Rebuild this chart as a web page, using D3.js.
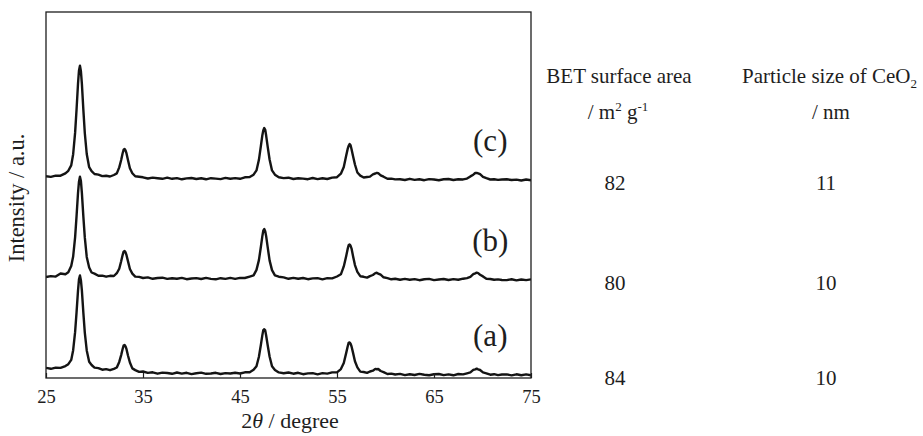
<!DOCTYPE html>
<html>
<head>
<meta charset="utf-8">
<script src="https://cdn.jsdelivr.net/npm/d3@7"></script>
<style>
  body { margin: 0; background: #fff; }
  svg { display: block; }
  text { font-family: "Liberation Serif", "Times New Roman", serif; fill: #1e1e1e; }
</style>
</head>
<body>
<svg id="chart" width="923" height="436"></svg>
<script>
// Diffraction angles (2θ, degree) shared by the three patterns
const twoTheta = [
  25.0, 25.5, 26.0, 26.5, 27.0,
  27.3, 27.6, 27.8, 28.0, 28.15, 28.3, 28.4, 28.5, 28.6, 28.7, 28.85, 29.0, 29.2, 29.45, 29.7, 30.0, 30.4, 30.8, 31.2, 31.6, 32.0,
  32.3, 32.55, 32.75, 32.9, 33.0, 33.1, 33.2, 33.3, 33.45, 33.65, 33.9, 34.2, 34.6,
  35.0, 35.5, 36.0, 36.5, 37.0, 37.5, 38.0, 38.5, 39.0, 39.5, 40.0, 40.5, 41.0, 41.5, 42.0, 42.5, 43.0, 43.5, 44.0, 44.5, 45.0, 45.5, 46.0,
  46.4, 46.7, 46.95, 47.15, 47.3, 47.4, 47.5, 47.6, 47.7, 47.85, 48.05, 48.3, 48.6, 49.0,
  49.5, 50.0, 50.5, 51.0, 51.5, 52.0, 52.5, 53.0, 53.5, 54.0, 54.5, 55.0,
  55.4, 55.7, 55.95, 56.1, 56.2, 56.3, 56.4, 56.5, 56.65, 56.85, 57.1, 57.4, 57.75, 58.1, 58.4, 58.7, 58.95, 59.1, 59.25, 59.5, 59.8, 60.2, 60.6, 61.0,
  61.5, 62.0, 62.5, 63.0, 63.5, 64.0, 64.5, 65.0, 65.5, 66.0, 66.5, 67.0, 67.5, 68.0,
  68.4, 68.75, 69.05, 69.25, 69.4, 69.55, 69.75, 70.05, 70.4, 70.8, 71.2, 71.6, 72.0,
  72.5, 73.0, 73.5, 74.0, 74.5, 75.0
];

// Intensity (a.u.) of each pattern
const patternA = [
  10.1, 9.2, 10.4, 10.1, 11.9,
  13.8, 18.1, 27.8, 45.8, 65.6, 87.4, 98.6, 102.5, 97.6, 87.3, 65.4, 45.4, 27.6, 16.2, 13.0, 10.4, 9.9, 8.3, 8.9, 7.8, 9.1,
  10.5, 16.1, 22.9, 29.0, 32.4, 33.0, 31.6, 28.8, 22.5, 15.5, 9.6, 7.9, 6.1,
  6.5, 5.1, 5.7, 4.3, 5.4, 5.0, 4.2, 5.5, 4.4, 5.2, 3.9, 4.8, 5.4, 4.2, 4.5, 5.2, 4.0, 4.9, 4.5, 5.3, 4.5, 5.7, 5.8,
  8.2, 11.8, 21.2, 33.0, 42.6, 47.9, 48.7, 47.6, 42.3, 33.0, 21.5, 11.8, 8.1, 5.6,
  4.8, 5.5, 4.3, 5.2, 3.8, 4.6, 4.85, 3.7, 4.85, 4.4, 5.6, 5.6,
  8.9, 15.0, 25.1, 31.5, 35.1, 35.6, 34.3, 31.5, 25.4, 16.7, 10.6, 6.4, 6.0, 5.1, 6.5, 7.3, 9.1, 8.8, 9.0, 7.0, 5.9, 4.0, 4.4, 3.5,
  4.1, 2.9, 3.8, 3.0, 4.1, 3.2, 2.8, 3.8, 4.0, 2.9, 3.6, 2.7, 4.0, 3.65,
  4.7, 5.6, 8.1, 8.7, 9.4, 8.7, 8.0, 5.6, 4.7, 3.3, 3.8, 2.9, 3.5,
  3.6, 2.65, 3.7, 2.8, 3.6, 2.7
];
const patternB = [
  5.9, 6.9, 6.4, 9.5, 8.7,
  10.7, 17.0, 26.5, 45.7, 66.8, 90.0, 101.3, 106.2, 101.9, 89.9, 66.7, 45.6, 26.1, 15.5, 10.5, 9.4, 7.3, 7.4, 6.3, 7.2, 7.0,
  9.8, 14.3, 21.7, 27.9, 31.3, 31.9, 30.7, 27.8, 21.9, 14.0, 9.4, 6.4, 6.1,
  5.0, 5.6, 4.2, 5.0, 5.3, 4.1, 4.7, 4.2, 5.1, 3.8, 4.5, 4.9, 4.0, 5.1, 4.1, 3.7, 4.8, 4.1, 5.1, 4.1, 5.1, 5.0, 6.4,
  7.6, 13.1, 22.9, 36.0, 46.6, 52.3, 53.9, 51.7, 46.6, 36.2, 22.6, 12.9, 7.6, 6.3,
  5.6, 4.2, 5.1, 4.2, 5.0, 3.8, 4.6, 4.9, 3.7, 4.8, 4.6, 6.5,
  8.7, 16.6, 27.1, 34.1, 37.8, 38.6, 37.2, 34.4, 27.1, 17.9, 11.1, 6.8, 6.2, 5.4, 6.9, 8.0, 9.9, 10.2, 9.4, 8.3, 5.7, 4.9, 3.7, 4.2,
  3.2, 4.1, 3.3, 3.9, 2.8, 3.7, 4.1, 2.9, 3.5, 4.0, 3.0, 3.85, 3.25, 4.3,
  4.9, 6.1, 8.8, 9.6, 10.3, 9.9, 8.3, 6.6, 4.3, 4.0, 3.2, 3.6, 3.0,
  2.9, 3.75, 2.6, 3.5, 2.9, 3.6
];
const patternC = [
  6.8, 6.15, 7.3, 7.3, 9.7,
  12.2, 17.6, 28.8, 50.1, 73.5, 99.3, 112.5, 117.2, 111.7, 99.2, 73.4, 50.0, 29.0, 15.8, 11.9, 9.0, 8.4, 6.9, 7.3, 6.5, 8.0,
  9.6, 15.6, 23.0, 29.7, 33.3, 34.0, 32.5, 29.6, 23.1, 14.7, 9.8, 6.7, 6.3,
  5.7, 4.5, 5.4, 4.8, 4.2, 5.3, 4.2, 4.9, 3.7, 4.6, 5.0, 4.0, 4.7, 3.7, 4.8, 4.4, 3.9, 5.1, 4.3, 4.9, 4.2, 5.7, 5.9,
  8.3, 12.6, 23.2, 36.9, 47.5, 52.6, 55.0, 53.2, 47.2, 36.6, 23.5, 12.6, 8.3, 5.7,
  4.9, 5.3, 4.0, 4.8, 4.4, 3.8, 5.0, 3.9, 4.7, 4.0, 5.4, 5.8,
  9.3, 16.0, 27.4, 34.1, 37.2, 38.9, 37.7, 33.8, 27.1, 18.5, 10.5, 7.4, 5.5, 6.0, 6.4, 8.6, 9.5, 10.1, 9.8, 7.7, 6.3, 4.3, 4.4, 3.6,
  3.8, 3.0, 4.2, 3.1, 3.8, 2.8, 3.9, 3.5, 2.8, 3.7, 4.0, 3.05, 3.75, 3.55,
  4.4, 6.6, 8.3, 10.0, 10.1, 9.6, 8.8, 6.1, 4.8, 3.5, 3.8, 3.1, 3.5,
  3.7, 2.95, 3.4, 2.5, 3.5, 2.8
];

const patternLabels = ["(a)", "(b)", "(c)"];
const patternOffsets = [0, 95, 195];     // vertical stacking of the patterns (a.u.)
const betSurfaceArea = [84, 80, 82];      // m2 g-1
const particleSize = [10, 10, 11];        // nm
const xTicks = [25, 35, 45, 55, 65, 75];

const patterns = [patternA, patternB, patternC];

const svg = d3.select("#chart");
const plot = { left: 46, top: 12, right: 531, bottom: 378 };

const x = d3.scaleLinear().domain([25, 75]).range([plot.left, plot.right]);
const y = d3.scaleLinear().domain([0, 366]).range([plot.bottom, plot.top]);

svg.append("defs").append("clipPath").attr("id", "plot-clip")
  .append("rect")
  .attr("x", plot.left).attr("y", plot.top)
  .attr("width", plot.right - plot.left).attr("height", plot.bottom - plot.top);

// traces
const line = d3.line()
  .x((d, i) => x(twoTheta[i]))
  .y(d => d);

const traces = svg.append("g").attr("clip-path", "url(#plot-clip)");
patterns.forEach((vals, k) => {
  const ys = vals.map(v => y(v + patternOffsets[k]));
  traces.append("path")
    .attr("d", line(ys))
    .attr("fill", "none")
    .attr("stroke", "#141414")
    .attr("stroke-width", 2.4)
    .attr("stroke-linejoin", "round");
});

// frame
svg.append("rect")
  .attr("x", plot.left).attr("y", plot.top)
  .attr("width", plot.right - plot.left).attr("height", plot.bottom - plot.top)
  .attr("fill", "none").attr("stroke", "#1e1e1e").attr("stroke-width", 1.3);

// x axis with inward ticks
const xAxis = d3.axisBottom(x).tickValues(xTicks).tickSizeInner(-5).tickSizeOuter(0).tickPadding(12);
const gx = svg.append("g").attr("transform", `translate(0,${plot.bottom})`).call(xAxis);
gx.select(".domain").remove();
gx.selectAll(".tick line").attr("stroke", "#1e1e1e").attr("stroke-width", 1.2);
gx.selectAll(".tick text")
  .attr("font-family", "Liberation Serif, serif")
  .attr("font-size", 18.5).attr("fill", "#1e1e1e");

// axis titles
const xt = svg.append("text")
  .attr("x", 290).attr("y", 428)
  .attr("text-anchor", "middle").attr("font-size", 22);
xt.append("tspan").text("2");
xt.append("tspan").attr("font-style", "italic").text("θ");
xt.append("tspan").text(" / degree");

svg.append("text")
  .attr("transform", "translate(24,198) rotate(-90)")
  .attr("text-anchor", "middle").attr("font-size", 22.5)
  .text("Intensity / a.u.");

// pattern labels
patternLabels.forEach((lab, k) => {
  svg.append("text")
    .attr("x", x(70.8)).attr("y", y(patternOffsets[k] + 32))
    .attr("text-anchor", "middle").attr("font-size", 31)
    .text(lab);
});

// table headers
const colBET = 618, colSize = 826;
svg.append("text").attr("x", 619).attr("y", 83).attr("text-anchor", "middle").attr("font-size", 21)
  .text("BET surface area");
const h2 = svg.append("text").attr("x", 742).attr("y", 83).attr("text-anchor", "start").attr("font-size", 21);
h2.append("tspan").text("Particle size of CeO");
h2.append("tspan").attr("font-size", 13).attr("dy", 5).text("2");

const u1 = svg.append("text").attr("x", colBET).attr("y", 119).attr("text-anchor", "middle").attr("font-size", 21);
u1.append("tspan").text("/ m");
u1.append("tspan").attr("font-size", 13).attr("dy", -8).text("2");
u1.append("tspan").attr("dy", 8).text(" g");
u1.append("tspan").attr("font-size", 13).attr("dy", -8).text("-1");
svg.append("text").attr("x", 831).attr("y", 119).attr("text-anchor", "middle").attr("font-size", 21)
  .text("/ nm");

// table values, one row per pattern
patternOffsets.forEach((off, k) => {
  const ry = y(off) + 7;
  svg.append("text").attr("x", 615).attr("y", ry).attr("text-anchor", "middle").attr("font-size", 21)
    .text(betSurfaceArea[k]);
  svg.append("text").attr("x", colSize).attr("y", ry).attr("text-anchor", "middle").attr("font-size", 21)
    .text(particleSize[k]);
});
</script>
</body>
</html>
